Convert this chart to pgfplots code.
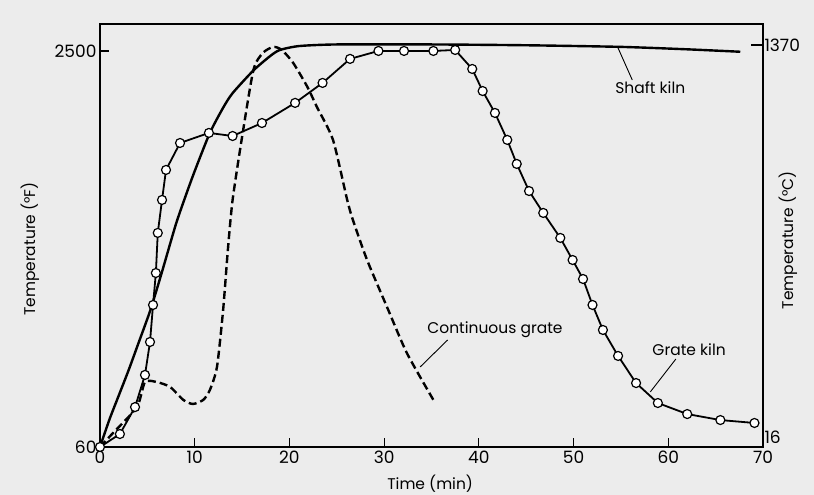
\documentclass[border=0pt]{standalone}
\usepackage{pgfplots}
\pgfplotsset{compat=1.18}
\usepackage{fontspec}
\setmainfont{Poppins}
\definecolor{paper}{RGB}{236,236,236}

\pgfplotstableread{
t T
0 60
1 230
2 380
3 530
4 690
5.3 900
6.5 1130
8 1430
9 1600
10 1760
11.6 1995
13 2150
14 2240
16.2 2380
18 2470
19 2506
21 2530
25 2540
35 2540
45 2535
55 2525
62 2510
67.6 2495
}\shaft

\pgfplotstableread{
t T
0 60
1.37 146
3.9 306
4.75 460
6.0 460
7.4 430
8.8 350
9.8 325
10.9 350
11.6 411
12.35 553
13.0 904
13.5 1274
14.0 1582
15.0 1970
16.2 2383
17.2 2488
18.3 2525
19.2 2506
20.4 2426
21.9 2278
22.9 2155
24.6 1952
26.1 1582
26.7 1459
28.2 1212
30.3 923
32.4 639
35.2 350
}\contgrate

\pgfplotstableread{
t T
0 60
2.1 140
3.7 306
4.75 504
5.28 707
5.6 935
5.9 1132
6.1 1379
6.55 1582
6.97 1767
8.45 1933
11.5 1995
14.0 1976
17.1 2056
20.6 2180
23.5 2303
26.4 2451
29.4 2500
32.1 2500
35.2 2500
37.5 2506
39.3 2389
40.4 2253
41.7 2118
43.0 1952
44.0 1804
45.3 1637
46.8 1502
48.6 1348
49.9 1212
51.0 1095
52.0 935
53.1 781
54.7 621
56.6 454
58.9 331
62.0 263
65.5 226
69.1 208
}\gratekiln

\begin{document}
\begin{tikzpicture}
\fill[paper] (-100pt,-48pt) rectangle (714pt,447pt);
\begin{axis}[
  scale only axis, width=663pt, height=423pt,
  xmin=0, xmax=70, ymin=60, ymax=2666,
  clip=false,
  axis line style={line width=1.6pt},
  tick align=inside, major tick length=9pt,
  tick style={line width=1.2pt, black},
  xtick={0,10,...,70},
  ytick={2500},
  extra y ticks={60}, extra y tick labels={60},
  extra y tick style={major tick length=0pt},
  ytick pos=left, xtick pos=bottom,
  /pgf/number format/assume math mode=true,
  /pgf/number format/1000 sep={},
  ticklabel style={font=\fontsize{17}{20}\selectfont},
  label style={font=\fontsize{15.5}{18}\selectfont},
  xlabel={Time (min)},
  ylabel={Temperature (°F)},
  xlabel style={at={(axis description cs:0.498,-0.0875)}, anchor=center},
  ylabel style={at={(axis description cs:-0.1056,0.468)}, rotate=0, anchor=center},
]
\addplot[black, line width=2.4pt, smooth, tension=0.4] table[x=t, y=T] {\shaft};
\addplot[black, line width=2.4pt, smooth, tension=0.4, dash pattern=on 8pt off 4pt] table[x=t, y=T] {\contgrate};
\addplot[black, line width=1.8pt, mark=*, mark size=4.5pt,
  mark options={fill=white, draw=black, line width=1.2pt, solid}] table[x=t, y=T] {\gratekiln};

\node[font=\fontsize{15.5}{18}\selectfont] at (axis cs:58.1,2272) {Shaft kiln};
\draw[line width=0.9pt] (axis cs:54.7,2518) -- (axis cs:56.2,2321);
\node[font=\fontsize{15.5}{18}\selectfont] at (axis cs:41.7,781) {Continuous grate};
\draw[line width=0.9pt] (axis cs:36.7,719) -- (axis cs:33.8,553);
\node[font=\fontsize{15.5}{18}\selectfont] at (axis cs:62.2,658) {Grate kiln};
\draw[line width=0.9pt] (axis cs:60.8,602) -- (axis cs:58.1,399);
\end{axis}
\begin{axis}[
  scale only axis, width=663pt, height=423pt,
  xmin=0, xmax=70, ymin=60, ymax=2666,
  axis x line=none, axis y line*=right,
  axis line style={line width=1.6pt},
  tick align=inside, major tick length=12pt,
  tick style={line width=1.2pt, black},
  ytick={2537}, yticklabels={1370},
  extra y ticks={122}, extra y tick labels={16},
  extra y tick style={major tick length=0pt},
  /pgf/number format/assume math mode=true,
  ticklabel style={font=\fontsize{17}{20}\selectfont},
  yticklabel style={xshift=-2pt},
  label style={font=\fontsize{15.5}{18}\selectfont},
  ylabel={Temperature (°C)},
  ylabel style={at={(axis description cs:1.0377,0.489)}, rotate=0, anchor=center},
]
\end{axis}
\pgfresetboundingbox
\path (-100pt,-48pt) rectangle (714pt,447pt);
\end{tikzpicture}
\end{document}
